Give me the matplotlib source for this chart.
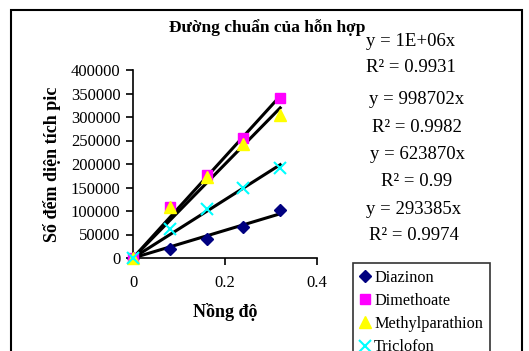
import numpy as np
import matplotlib
matplotlib.use('Agg')
import matplotlib.pyplot as plt
from matplotlib.patches import Rectangle

# concentration levels
conc = [0, 0.08, 0.16, 0.24, 0.32]

# peak area counts
diazinon = [0, 18500, 39800, 66600, 102000]
dimethoate = [0, 108000, 176600, 254700, 340000]
methylparathion = [0, 108000, 172000, 242500, 304000]
triclofon = [0, 61700, 105000, 149600, 192000]

names = ['Diazinon', 'Dimethoate', 'Methylparathion', 'Triclofon']
equations = ['y = 1E+06x', 'y = 998702x', 'y = 623870x', 'y = 293385x']
r2_labels = ['R² = 0.9931', 'R² = 0.9982', 'R² = 0.99', 'R² = 0.9974']


def fit_through_origin(x, y):
    x = np.asarray(x, float)
    y = np.asarray(y, float)
    return (x * y).sum() / (x * x).sum()


def plot_calibration():
    plt.rcParams['font.family'] = ['Liberation Serif', 'DejaVu Serif']
    fig = plt.figure(figsize=(5.29, 3.51), dpi=100)
    ax = fig.add_axes([133 / 529, 1 - 258 / 351, 184 / 529, 188 / 351])

    series = [diazinon, dimethoate, methylparathion, triclofon]
    styles = [('D', '#000080', 6.5), ('s', '#FF00FF', 7), ('^', '#FFFF00', 8), ('x', '#00FFFF', 8)]

    # trendlines first, markers on top
    xs = np.array([0, conc[-1]])
    for y in series:
        k = fit_through_origin(conc, y)
        ax.plot(xs, k * xs, color='black', lw=2.2, zorder=2)

    for y, name, (m, c, ms) in zip(series, names, styles):
        if m == 'x':
            ax.plot(conc, y, ls='none', marker=m, color=c, ms=ms, mew=1.5,
                    label=name, clip_on=False, zorder=3)
        else:
            ax.plot(conc, y, ls='none', marker=m, color=c, ms=ms, mec=c,
                    label=name, clip_on=False, zorder=3)

    ax.set_xlim(0, 0.4)
    ax.set_ylim(0, 400000)
    ax.set_xticks([0, 0.2, 0.4])
    ax.set_xticklabels(['0', '0.2', '0.4'])
    ax.set_yticks(range(0, 400001, 50000))
    ax.spines['top'].set_visible(False)
    ax.spines['right'].set_visible(False)
    ax.spines['left'].set_linewidth(1.2)
    ax.spines['bottom'].set_linewidth(1.2)
    ax.tick_params(direction='out', length=5, width=1.2, labelsize=12, pad=4)
    ax.tick_params(axis='x', pad=7)

    ax.set_xlabel('Nồng độ', fontsize=13, fontweight='bold', labelpad=9)
    ax.set_ylabel('Số đếm diện tích pic', fontsize=13, fontweight='bold', labelpad=7)

    fig.text(267 / 529, 1 - 28 / 351, 'Đường chuẩn của hỗn hợp', fontsize=12.5,
             fontweight='bold', ha='center', va='center')

    # trendline equations
    eq_pos = [(411, 41, 68), (417, 100, 127), (417, 154, 182), (414, 209, 236)]
    for eq, r2, (cx, y1, y2) in zip(equations, r2_labels, eq_pos):
        fig.text(cx / 529, 1 - y1 / 351, eq, fontsize=13.5, ha='center', va='center')
        fig.text(cx / 529, 1 - y2 / 351, r2, fontsize=13.5, ha='center', va='center')

    leg = fig.legend(loc='upper left', bbox_to_anchor=(353 / 529, 1 - 263 / 351),
                     fontsize=11.7, frameon=True, fancybox=False, edgecolor='black',
                     handlelength=0.7, handletextpad=0.2, borderpad=0.4,
                     labelspacing=0.45, borderaxespad=0)
    leg.get_frame().set_linewidth(1.2)

    # outer chart frame (cut off on the bottom)
    fig.patches.append(Rectangle((11 / 529, -0.1), (522 - 11) / 529, 1.1 - 10 / 351,
                                 transform=fig.transFigure, fill=False,
                                 edgecolor='black', lw=1.5))

    fig.savefig('out.png', dpi=100)


if __name__ == '__main__':
    plot_calibration()
